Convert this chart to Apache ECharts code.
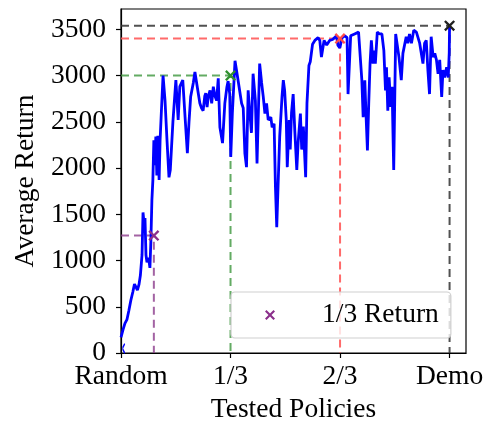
<!DOCTYPE html>
<html><head><meta charset="utf-8">
<script src="https://cdn.jsdelivr.net/npm/echarts@6/dist/echarts.min.js"></script>
<style>html,body{margin:0;padding:0;background:#fff}#c{width:484px;height:422px}</style>
</head><body><div id="c"></div>
<script>
// Tested policy position (fraction of training: 0 = Random, 1 = Demo)
const policyPos = [
0.000,0.006,0.012,0.018,0.024,0.030,0.036,0.041,0.046,0.050,
0.055,0.059,0.064,0.067,0.070,0.073,0.076,0.079,0.084,0.088,
0.091,0.094,0.097,0.100,0.103,0.106,0.109,0.112,0.116,0.119,
0.123,0.128,0.134,0.140,0.146,0.150,0.158,0.167,0.174,0.179,
0.188,0.195,0.202,0.207,0.212,0.220,0.225,0.232,0.240,0.245,
0.250,0.255,0.258,0.262,0.266,0.271,0.276,0.281,0.286,0.291,
0.296,0.301,0.309,0.316,0.322,0.326,0.331,0.334,0.339,0.347,
0.355,0.360,0.367,0.372,0.377,0.382,0.387,0.392,0.397,0.402,
0.409,0.414,0.422,0.428,0.433,0.438,0.443,0.448,0.456,0.460,
0.466,0.470,0.474,0.478,0.483,0.490,0.494,0.498,0.503,0.506,
0.512,0.515,0.519,0.524,0.529,0.535,0.539,0.546,0.550,0.555,
0.562,0.566,0.572,0.576,0.583,0.590,0.600,0.605,0.610,0.614,
0.618,0.626,0.635,0.644,0.656,0.660,0.666,0.673,0.681,0.688,
0.691,0.696,0.699,0.711,0.723,0.729,0.733,0.737,0.742,0.746,
0.750,0.754,0.758,0.762,0.767,0.770,0.774,0.780,0.787,0.794,
0.800,0.805,0.808,0.812,0.816,0.821,0.825,0.830,0.836,0.841,
0.846,0.853,0.858,0.863,0.868,0.873,0.878,0.884,0.891,0.899,
0.903,0.909,0.914,0.919,0.924,0.929,0.934,0.939,0.944,0.950,
0.955,0.960,0.965,0.970,0.976,0.980,0.985,0.991,0.996,0.999,
1.000
];
// Average return of each tested policy
const averageReturn = [
170,250,320,360,460,570,660,745,710,680,
745,840,1060,1520,1410,1460,1060,980,1030,920,
1220,1650,1870,2300,2030,2340,1920,2350,1870,2300,
2620,3000,2730,2300,1900,1980,2500,2950,2520,2880,
2950,2550,2160,2500,2770,2920,3040,2880,2700,2650,
2620,2780,2810,2660,2780,2840,2700,2880,2780,2730,
2970,2440,2270,2700,2870,2940,2800,2120,2600,3160,
2980,2980,2700,2650,2160,2010,2840,2600,2380,3020,
2730,2050,3130,2920,2770,2590,2700,2520,2550,2440,
2480,1800,1360,1800,2340,2770,2950,2840,2520,2010,
2520,2200,2600,2800,2400,1980,2270,2590,2200,2450,
1900,2700,3110,3150,3340,3380,3410,3380,3200,3190,
3380,3330,3380,3390,3430,3330,3300,3410,3430,3410,
2800,2790,3430,3450,3470,3450,2950,2550,2950,2550,
2190,2700,3130,3380,3130,3270,3130,3470,3450,3450,
3270,2840,3090,2620,2980,2660,2880,1980,3450,3460,
3200,2950,3240,3240,3420,3350,3450,3350,3490,3470,
3490,3350,3370,3130,3350,3380,3060,2800,3420,3200,
3240,3170,3020,3170,2770,3060,2980,3090,2980,3250,
3540
];
// Reference points [position, return]
const randomPoint   = [0, 50];
const oneThirdPoint = [0.1, 1270];
const greenPoint    = [1/3, 3000];
const redPoint      = [2/3, 3400];
const demoPoint     = [1, 3540];

const xTickValues = [0, 1/3, 2/3, 1];
const xTickLabels = ['Random', '1/3', '2/3', 'Demo'];
const yTickValues = [0, 500, 1000, 1500, 2000, 2500, 3000, 3500];

const FONT = 'Liberation Serif';
const FS = 27.5;
const XSYM = 'path://M0,1.5L1.5,0L5,3.5L8.5,0L10,1.5L6.5,5L10,8.5L8.5,10L5,6.5L1.5,10L0,8.5L3.5,5Z';
const HALFX = 'path://M0,3.5L3.5,0L5,1.5L1.5,5L5,8.5L3.5,10L0,6.5Z';

function guide(pt, color) {
  return {
    type: 'line', silent: true, symbol: 'none', z: 1,
    data: [[0, pt[1]], [pt[0], pt[1]], [pt[0], 0]],
    lineStyle: { color: color, width: 2, type: [8, 5] }
  };
}
function marker(name, pt, color, sym, size, offset) {
  return {
    type: 'scatter', name: name, silent: true, z: 5,
    symbol: sym, symbolSize: size, symbolKeepAspect: true,
    symbolOffset: offset || [0, 0],
    itemStyle: { color: color, opacity: 1 },
    data: [pt]
  };
}

const chart = echarts.init(document.getElementById('c'));
chart.setOption({
  animation: false,
  backgroundColor: '#fff',
  grid: { left: 121, right: 18, top: 9, bottom: 69, outerBoundsMode: 'none', containLabel: false,
    show: true, borderColor: '#000', borderWidth: 1.2, backgroundColor: 'transparent' },
  xAxis: {
    type: 'value', min: 0, max: 1.05,
    name: 'Tested Policies', nameLocation: 'middle', nameGap: 42,
    nameTextStyle: { fontFamily: FONT, fontSize: FS, color: '#000' },
    axisLine: { show: true, lineStyle: { color: '#000', width: 1.2 } },
    axisTick: { show: true, length: 5, customValues: xTickValues, lineStyle: { color: '#000', width: 1.2 } },
    axisLabel: { customValues: xTickValues, margin: 10, fontFamily: FONT, fontSize: FS, color: '#000',
      formatter: v => { const i = xTickValues.findIndex(t => Math.abs(t - v) < 1e-6); return i >= 0 ? xTickLabels[i] : ''; } },
    splitLine: { show: false }
  },
  yAxis: {
    type: 'value', min: 0, max: 3720,
    name: 'Average Return', nameLocation: 'middle', nameGap: 62,
    nameTextStyle: { fontFamily: FONT, fontSize: FS, color: '#000' },
    axisLine: { show: true, lineStyle: { color: '#000', width: 1.2 } },
    axisTick: { show: true, length: 5, customValues: yTickValues, lineStyle: { color: '#000', width: 1.2 } },
    axisLabel: { customValues: yTickValues, margin: 15, fontFamily: FONT, fontSize: FS, color: '#000',
      formatter: v => String(Math.round(v)) },
    splitLine: { show: false }
  },
  legend: {
    data: ['1/3 Return'],
    left: 231, top: 292,
    padding: [9, 12, 9, 34],
    itemWidth: 10, itemHeight: 10,
    backgroundColor: 'rgba(255,255,255,0.8)',
    borderColor: '#d0d0d0', borderWidth: 1.2, borderRadius: 4,
    formatter: n => '{t|' + n + '}',
    textStyle: { fontFamily: FONT, fontSize: FS, color: '#000',
      rich: { t: { fontFamily: FONT, fontSize: FS, color: '#000', padding: [0, 0, 0, 42] } } }
  },
  series: [
    guide(oneThirdPoint, 'rgba(140,60,140,0.8)'),
    guide(greenPoint, 'rgba(60,150,60,0.8)'),
    guide(redPoint, 'rgba(255,80,80,0.85)'),
    guide(demoPoint, 'rgba(50,50,50,0.85)'),
    {
      type: 'line', name: 'Return', silent: true, z: 3,
      symbol: 'none', showSymbol: false,
      data: policyPos.map((x, i) => [x, averageReturn[i]]),
      lineStyle: { color: '#0000ff', width: 2.8 }
    },
    marker('1/3 Return', oneThirdPoint, '#8b2f8b', XSYM, 11),
    marker('g', greenPoint, '#2f8f2f', XSYM, 11),
    marker('r', redPoint, '#ff4a4a', XSYM, 11),
    marker('d', demoPoint, '#202020', XSYM, 11),
    marker('b', randomPoint, '#0000ff', HALFX, [5.5, 11], [2.75, 0])
  ]
});
</script></body></html>
